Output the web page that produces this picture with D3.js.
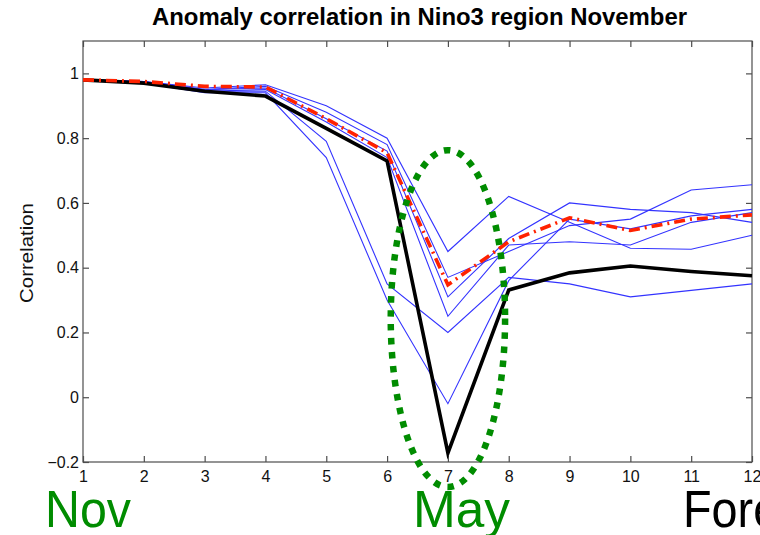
<!DOCTYPE html>
<html>
<head>
<meta charset="utf-8">
<script src="https://cdn.jsdelivr.net/npm/d3@7"></script>
<style>
  html, body { margin: 0; padding: 0; background: #fff; }
  svg { display: block; }
  text { font-family: "Liberation Sans", Arial, Helvetica, sans-serif; }
</style>
</head>
<body>
<svg id="chart" width="760" height="535"></svg>
<script>
// ---- data ----
const months = [1, 2, 3, 4, 5, 6, 7, 8, 9, 10, 11, 12];
const xTicks = [1, 2, 3, 4, 5, 6, 7, 8, 9, 10, 11, 12];
const yTicks = [-0.2, 0, 0.2, 0.4, 0.6, 0.8, 1];
const yTickLabels = ["\u22120.2", "0", "0.2", "0.4", "0.6", "0.8", "1"];

// individual members (thin blue)
const member1 = [0.98, 0.975, 0.955, 0.965, 0.90, 0.80, 0.45, 0.62, 0.54, 0.46, 0.457, 0.50];
const member2 = [0.98, 0.975, 0.950, 0.960, 0.88, 0.78, 0.37, 0.45, 0.53, 0.55, 0.64, 0.656];
const member3 = [0.98, 0.975, 0.950, 0.955, 0.86, 0.76, 0.31, 0.49, 0.60, 0.58, 0.57, 0.54];
const member4 = [0.98, 0.970, 0.945, 0.950, 0.85, 0.74, 0.25, 0.47, 0.48, 0.47, 0.54, 0.57];
const member5 = [0.98, 0.970, 0.945, 0.945, 0.79, 0.35, 0.20, 0.37, 0.35, 0.31, 0.33, 0.35];
const member6 = [0.98, 0.970, 0.940, 0.940, 0.74, 0.30, -0.02, 0.36, 0.55, 0.52, 0.56, 0.58];
// black thick line
const blackLine = [0.98, 0.970, 0.945, 0.930, 0.83, 0.73, -0.172, 0.331, 0.384, 0.405, 0.388, 0.375];
// red dash-dot line
const redLine = [0.98, 0.975, 0.960, 0.958, 0.86, 0.755, 0.347, 0.48, 0.554, 0.515, 0.55, 0.563];

const titleText = "Anomaly correlation in Nino3 region November";
const yLabelText = "Correlation";
const bottomLabels = [
  { text: "Nov", color: "#008c00", x: 45, w: 86 },
  { text: "May", color: "#008c00", x: 413, w: 97 },
  { text: "Forecast month", color: "#000000", x: 683, w: 325 }
];
// highlight ellipse around month 7 (in data units)
const ellipseCenter = { month: 7, value: 0.243 };
const ellipseHalfWidthMonths = 0.94;
const ellipseHalfHeightValue = 0.52;

// ---- layout ----
const svg = d3.select("#chart");
const mLeft = 83, mRight = 752, mTop = 41, mBottom = 462;
const x = d3.scaleLinear().domain([1, 12]).range([mLeft, mRight]);
const y = d3.scaleLinear().domain([-0.2, 1.1]).range([mBottom, mTop]);
const axisColor = "#4d4d4d";
const fontStack = "\"Liberation Sans\", Arial, Helvetica, sans-serif";

// title
svg.append("text")
  .attr("x", 152).attr("y", 25)
  .attr("font-size", 23).attr("font-weight", "bold")
  .attr("textLength", 535).attr("lengthAdjust", "spacingAndGlyphs")
  .attr("fill", "#000")
  .text(titleText);

// box
svg.append("rect")
  .attr("x", mLeft).attr("y", mTop)
  .attr("width", mRight - mLeft).attr("height", mBottom - mTop)
  .attr("fill", "none").attr("stroke", axisColor).attr("stroke-width", 1.2);

// axes (ticks inward)
const xAxisB = d3.axisBottom(x).tickValues(xTicks).tickSize(-6).tickPadding(9).tickFormat(d3.format("d"));
const xAxisT = d3.axisTop(x).tickValues(xTicks).tickSize(-6).tickFormat("");
const yAxisL = d3.axisLeft(y).tickValues(yTicks).tickSize(-6).tickPadding(4)
  .tickFormat((d, i) => yTickLabels[i]);
const yAxisR = d3.axisRight(y).tickValues(yTicks).tickSize(-6).tickFormat("");

function styleAxis(g) {
  g.attr("font-size", null).attr("font-family", null);
  g.select(".domain").remove();
  g.selectAll(".tick line").attr("stroke", axisColor).attr("stroke-width", 1.2);
  g.selectAll(".tick text").attr("fill", "#111")
    .style("font-size", "16px").style("font-family", fontStack);
}
svg.append("g").attr("transform", `translate(0,${mBottom})`).call(xAxisB).call(styleAxis);
svg.append("g").attr("transform", `translate(0,${mTop})`).call(xAxisT).call(styleAxis);
svg.append("g").attr("transform", `translate(${mLeft},0)`).call(yAxisL).call(styleAxis);
svg.append("g").attr("transform", `translate(${mRight},0)`).call(yAxisR).call(styleAxis);

// y label
svg.append("text")
  .attr("transform", "translate(33,253) rotate(-90)")
  .attr("text-anchor", "middle")
  .style("font-size", "18px").attr("fill", "#111")
  .attr("textLength", 100).attr("lengthAdjust", "spacingAndGlyphs")
  .text(yLabelText);

// lines
const line = d3.line().x((d, i) => x(months[i])).y(d => y(d));
const plot = svg.append("g");
[member1, member2, member3, member4, member5, member6].forEach(s => {
  plot.append("path").datum(s).attr("d", line)
    .attr("fill", "none").attr("stroke", "#3333ff").attr("stroke-width", 1.1)
    .attr("stroke-linejoin", "miter");
});
plot.append("path").datum(blackLine).attr("d", line)
  .attr("fill", "none").attr("stroke", "#000").attr("stroke-width", 3.6)
  .attr("stroke-linejoin", "miter");
plot.append("path").datum(redLine).attr("d", line)
  .attr("fill", "none").attr("stroke", "#ff2200").attr("stroke-width", 3.6)
  .attr("stroke-dasharray", "11,5,2,5");

// green dotted ellipse
const ecx = x(ellipseCenter.month), ecy = y(ellipseCenter.value);
const erx = x(ellipseCenter.month + ellipseHalfWidthMonths) - ecx;
const ery = y(ellipseCenter.value - ellipseHalfHeightValue) - ecy;
svg.append("ellipse")
  .attr("cx", ecx).attr("cy", ecy).attr("rx", erx).attr("ry", ery)
  .attr("fill", "none").attr("stroke", "#008c00").attr("stroke-width", 6.5)
  .attr("stroke-dasharray", "6.5,7.5");

// bottom labels
bottomLabels.forEach(b => {
  svg.append("text")
    .attr("x", b.x).attr("y", 527)
    .style("font-size", "52px").attr("fill", b.color)
    .attr("textLength", b.w).attr("lengthAdjust", "spacingAndGlyphs")
    .text(b.text);
});
</script>
</body>
</html>
